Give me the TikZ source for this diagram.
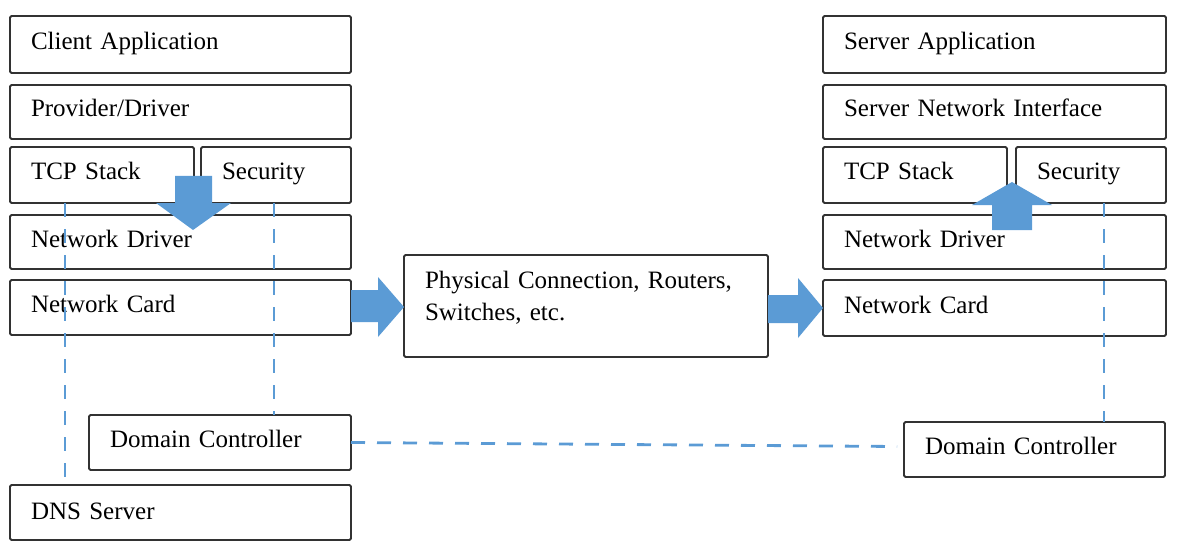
\documentclass[tikz,border=0pt]{standalone}
\usepackage{fontspec}
\setmainfont{Liberation Serif}
\definecolor{arrowblue}{RGB}{91,155,213}
\definecolor{boxline}{RGB}{50,50,50}
\begin{document}
\begin{tikzpicture}[x=1pt,y=-1pt,
  box/.style={draw=boxline, line width=1.8pt, rounded corners=1.5pt, anchor=north west,
    inner xsep=21pt, inner ysep=0pt, outer sep=0pt, align=left,
    text height=16pt, text depth=6pt,
    font=\fontsize{25}{32}\selectfont},
  dashline/.style={draw=arrowblue, line width=2.8pt, dash pattern=on 14pt off 12pt},
  blockarrow/.style={fill=arrowblue, draw=none}]
\useasboundingbox (0,0) rectangle (1192,559);
% client side
\node[box, minimum width=341, minimum height=57, text width=299] (ca) at (10,16) {Client Application};
\node[box, minimum width=341, minimum height=54, text width=299] (pd) at (10,85) {Provider/Driver};
\node[box, minimum width=184, minimum height=56, text width=142] (tcpL) at (10,147) {TCP Stack};
\node[box, minimum width=150, minimum height=56, text width=108] (secL) at (201,147) {Security};
\node[box, minimum width=341, minimum height=54, text width=299] (ndL) at (10,215) {Network Driver};
\node[box, minimum width=341, minimum height=55, text width=299] (ncL) at (10,280) {Network Card};
\node[box, minimum width=262, minimum height=55, text width=220] (dcL) at (89,415) {Domain Controller};
\node[box, minimum width=341, minimum height=55, text width=299, text depth=2pt] (dns) at (10,485) {DNS Server};
% middle
\node[box, minimum width=364, minimum height=102, text width=322, text height=17pt, text depth=53pt] (phys) at (404,255) {Physical Connection, Routers,\\Switches, etc.};
% server side
\node[box, minimum width=343, minimum height=57, text width=301] (sa) at (823,16) {Server Application};
\node[box, minimum width=343, minimum height=54, text width=301] (sni) at (823,85) {Server Network Interface};
\node[box, minimum width=184, minimum height=56, text width=142] (tcpR) at (823,147) {TCP Stack};
\node[box, minimum width=150, minimum height=56, text width=108] (secR) at (1016,147) {Security};
\node[box, minimum width=343, minimum height=54, text width=301] (ndR) at (823,215) {Network Driver};
\node[box, minimum width=343, minimum height=56, text width=301] (ncR) at (823,280) {Network Card};
\node[box, minimum width=261, minimum height=55, text width=219] (dcR) at (904,422) {Domain Controller};
% dashed links
\draw[dashline] (tcpL.south west) ++(55,0) coordinate (d1) -- (d1 |- dns.north);
\draw[dashline] (secL.south west) ++(73,0) coordinate (d2) -- (d2 |- dcL.north);
\draw[dashline] (secR.south west) ++(88,0) coordinate (d3) -- (d3 |- dcR.north);
\draw[dashline] (dcL.east) -- ([xshift=-7pt,yshift=3pt]dcR.west);
% block arrows
\fill[blockarrow] (175,176) -- (212,176) -- (212,203) -- (231,203) -- (193,230) -- (156,203) -- (175,203) -- cycle;
\fill[blockarrow] (992,230) -- (1032,230) -- (1032,205) -- (1052,205) -- (1012,182) -- (972,205) -- (992,205) -- cycle;
\fill[blockarrow] (ncL.east |- 0,290) -- (378,290) -- (378,277) -- (phys.west |- 0,307) -- (378,337) -- (378,322) -- (ncL.east |- 0,322) -- cycle;
\fill[blockarrow] (phys.east |- 0,295) -- (798,295) -- (798,278) -- (ncR.west |- 0,308) -- (798,338) -- (798,323) -- (phys.east |- 0,323) -- cycle;
\end{tikzpicture}
\end{document}
